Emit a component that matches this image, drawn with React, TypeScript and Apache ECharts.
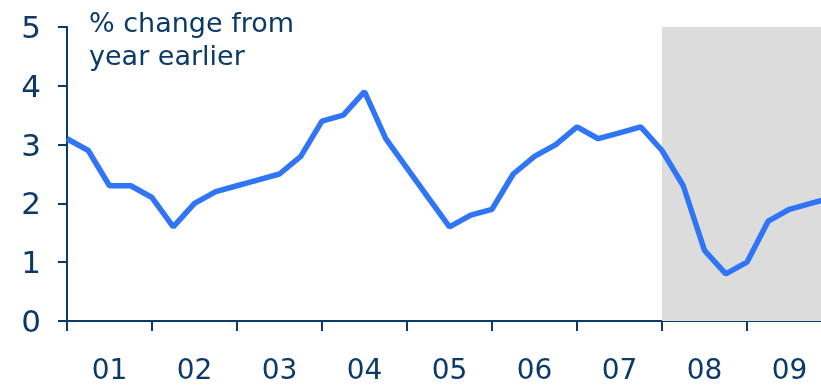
import React, { useEffect, useRef } from "react";
import * as echarts from "echarts";

const startYear = 2001;
const quarterlyChange = [
  3.1, 2.9, 2.3, 2.3,
  2.1, 1.6, 2.0, 2.2,
  2.3, 2.4, 2.5, 2.8,
  3.4, 3.5, 3.9, 3.1,
  2.6, 2.1, 1.6, 1.8,
  1.9, 2.5, 2.8, 3.0,
  3.3, 3.1, 3.2, 3.3,
  2.9, 2.3, 1.2, 0.8,
  1.0, 1.7, 1.9, 2.0,
  2.1,
];
const yTicks = [0, 1, 2, 3, 4, 5];
const recessionStart = 2008;
const xMax = 2010;
const annotation = "% change from\nyear earlier";

const NAVY = "#0b3a68";
const FONT = "DejaVu Sans, Verdana, sans-serif";

export default function App() {
  const ref = useRef<HTMLDivElement>(null);
  useEffect(() => {
    if (!ref.current) return;
    const chart = echarts.init(ref.current, undefined, { renderer: "svg" });
    const data = quarterlyChange.map((v, i) => [startYear + i / 4, v]);
    chart.setOption({
      animation: false,
      grid: {
        left: 67,
        width: 765,
        top: 27,
        bottom: 64,
        containLabel: false,
        outerBoundsMode: "none",
      },
      xAxis: [
        {
          type: "value",
          min: startYear,
          max: xMax,
          interval: 1,
          axisLine: { show: true, lineStyle: { color: NAVY, width: 2 } },
          axisTick: { show: true, length: 10, lineStyle: { color: NAVY, width: 2 } },
          axisLabel: { show: false },
          splitLine: { show: false },
        },
        {
          type: "value",
          position: "bottom",
          min: startYear,
          max: xMax,
          interval: 0.5,
          axisLine: { show: false },
          axisTick: { show: false },
          splitLine: { show: false },
          axisLabel: {
            show: true,
            margin: 34,
            color: NAVY,
            fontSize: 28,
            fontFamily: FONT,
            formatter: (v: number) =>
              Math.abs((v % 1) - 0.5) < 1e-6
                ? String(Math.floor(v) % 100).padStart(2, "0")
                : "",
          },
        },
      ],
      yAxis: {
        type: "value",
        min: yTicks[0],
        max: yTicks[yTicks.length - 1],
        interval: 1,
        axisLine: { show: true, lineStyle: { color: NAVY, width: 2 } },
        axisTick: { show: true, length: 9, lineStyle: { color: NAVY, width: 2 } },
        axisLabel: { margin: 26, color: NAVY, fontSize: 31, fontFamily: FONT },
        splitLine: { show: false },
      },
      graphic: [
        {
          type: "text",
          left: 89,
          top: 6,
          style: {
            text: annotation,
            fill: NAVY,
            font: `27px ${FONT}`,
            lineHeight: 33,
          },
        },
      ],
      series: [
        {
          type: "line",
          xAxisIndex: 0,
          data,
          symbol: "none",
          lineStyle: { color: "#2f75f6", width: 5.5 },
          z: 3,
          markArea: {
            silent: true,
            itemStyle: { color: "#dcdcdc" },
            data: [[{ xAxis: recessionStart }, { xAxis: xMax }]],
          },
        },
      ],
    });
    return () => chart.dispose();
  }, []);
  return (
    <div
      ref={ref}
      style={{ position: "fixed", left: 0, top: 0, width: 821, height: 385 }}
    />
  );
}
